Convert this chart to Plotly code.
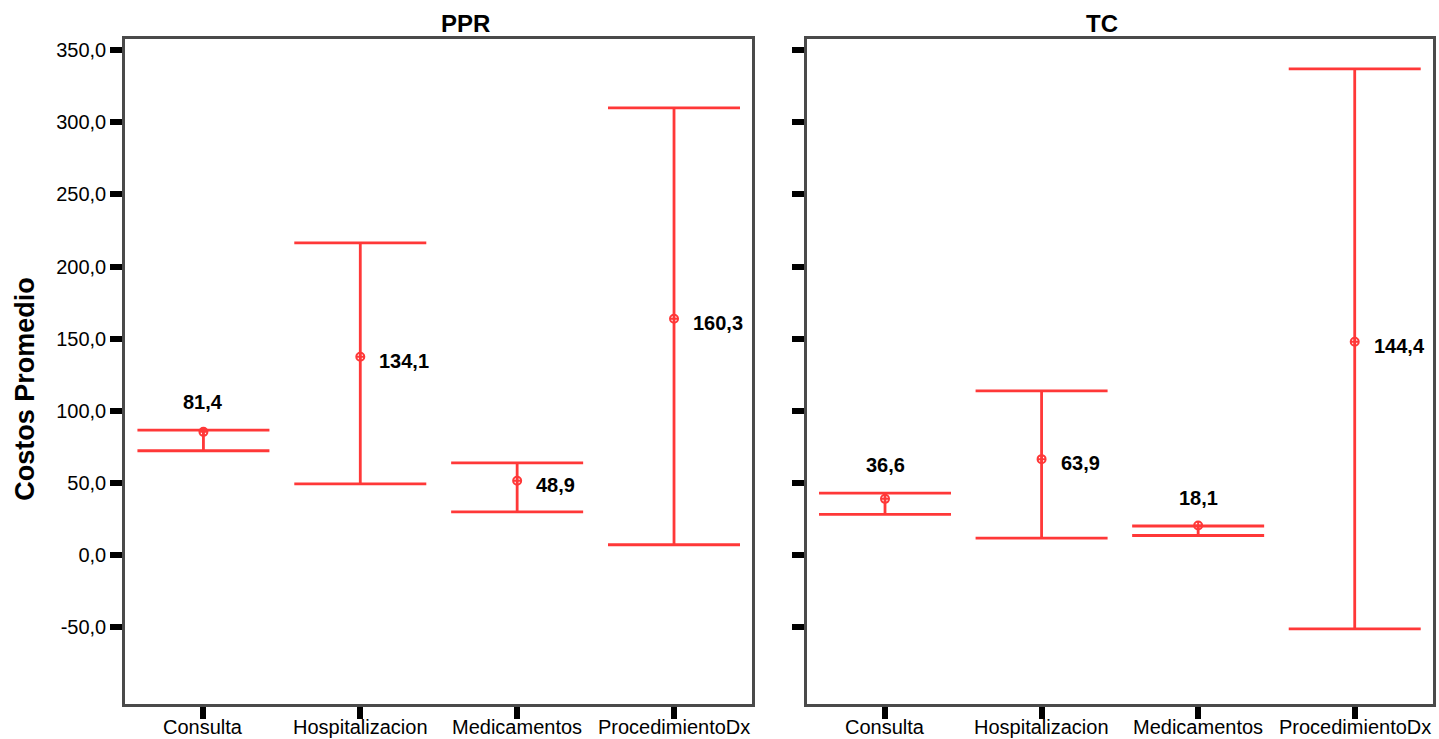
import plotly.graph_objects as go

categories = ["Consulta", "Hospitalizacion", "Medicamentos", "ProcedimientoDx"]
panels = ["PPR", "TC"]

# PPR
ppr_mean = [85.5, 137.5, 51.6, 163.8]
ppr_upper = [86.7, 216.4, 64.0, 309.9]
ppr_lower = [72.4, 49.5, 30.1, 7.3]
ppr_label = ["81,4", "134,1", "48,9", "160,3"]
ppr_pos = ["above", "right", "right", "right"]

# TC
tc_mean = [39.1, 66.6, 20.6, 147.9]
tc_upper = [43.1, 113.9, 20.3, 336.9]
tc_lower = [28.3, 11.9, 13.7, -50.9]
tc_label = ["36,6", "63,9", "18,1", "144,4"]
tc_pos = ["above", "right", "above", "right"]

y_ticks = [-50, 0, 50, 100, 150, 200, 250, 300, 350]
y_tick_text = ["-50,0", "0,0", "50,0", "100,0", "150,0", "200,0", "250,0", "300,0", "350,0"]

RED = "#ff3838"
FONT = "Liberation Sans, Arial, sans-serif"

fig = go.Figure()
data = [
    (ppr_mean, ppr_upper, ppr_lower, ppr_label, ppr_pos),
    (tc_mean, tc_upper, tc_lower, tc_label, tc_pos),
]
for i, (m, up, lo, lab, pos) in enumerate(data):
    xa = "x" if i == 0 else "x2"
    ya = "y" if i == 0 else "y2"
    fig.add_trace(go.Scatter(
        x=categories, y=m, mode="markers", xaxis=xa, yaxis=ya,
        marker=dict(symbol="circle-cross-open", size=8, color=RED, line=dict(width=2, color=RED)),
        error_y=dict(type="data", symmetric=False,
                     array=[u - v for u, v in zip(up, m)],
                     arrayminus=[v - l for v, l in zip(m, lo)],
                     color=RED, thickness=2.8, width=66),
        showlegend=False, hoverinfo="skip",
    ))
    for c, v, u, t, p in zip(categories, m, up, lab, pos):
        if p == "above":
            fig.add_annotation(x=c, y=u, xref=xa, yref=ya, text=t, showarrow=False,
                               xanchor="center", yanchor="middle", yshift=28,
                               font=dict(family=FONT, size=20, color="black", weight="bold"))
        else:
            fig.add_annotation(x=c, y=v, xref=xa, yref=ya, text=t, showarrow=False,
                               xanchor="left", yanchor="middle", xshift=17, yshift=-4,
                               font=dict(family=FONT, size=20, color="black", weight="bold"))
    # category labels under the x ticks
    for c in categories:
        fig.add_annotation(x=c, y=0, xref=xa, yref="paper", text=c, showarrow=False,
                           xanchor="center", yanchor="top", yshift=-11, borderpad=0,
                           font=dict(family=FONT, size=20, color="black"))

axis_common = dict(showline=True, mirror=True, linecolor="#4a4a4a", linewidth=2.5,
                   showgrid=False, zeroline=False, ticks="outside", ticklen=12,
                   tickwidth=6, tickcolor="black", automargin=False,
                   tickfont=dict(family=FONT, size=20, color="black"))

fig.update_layout(
    width=1439, height=739,
    margin=dict(l=125, r=6, t=39, b=35),
    plot_bgcolor="white", paper_bgcolor="white",
    xaxis=dict(domain=[0, 0.4797], range=[-0.5, 3.5], showticklabels=False, **axis_common),
    xaxis2=dict(domain=[0.5212, 1], range=[-0.5, 3.5], anchor="y2", showticklabels=False,
                **axis_common),
    yaxis=dict(range=[-103, 357.6], tickvals=y_ticks, ticktext=y_tick_text, **axis_common),
    yaxis2=dict(range=[-103, 357.6], tickvals=y_ticks, ticktext=y_tick_text,
                showticklabels=False, anchor="x2", **axis_common),
)

for xd, name in zip([(0, 0.4797), (0.5212, 1)], panels):
    fig.add_annotation(x=(xd[0] + xd[1]) / 2, y=1, xref="paper", yref="paper",
                       text=name, showarrow=False, yanchor="middle", yshift=16,
                       font=dict(family=FONT, size=24, color="black", weight="bold"))

fig.add_annotation(x=0, y=0.474, xref="paper", yref="paper", text="Costos Promedio",
                   showarrow=False, textangle=-90, xanchor="center", yanchor="middle",
                   xshift=-100,
                   font=dict(family=FONT, size=27, color="black", weight="bold"))

fig.write_html("out.html")
